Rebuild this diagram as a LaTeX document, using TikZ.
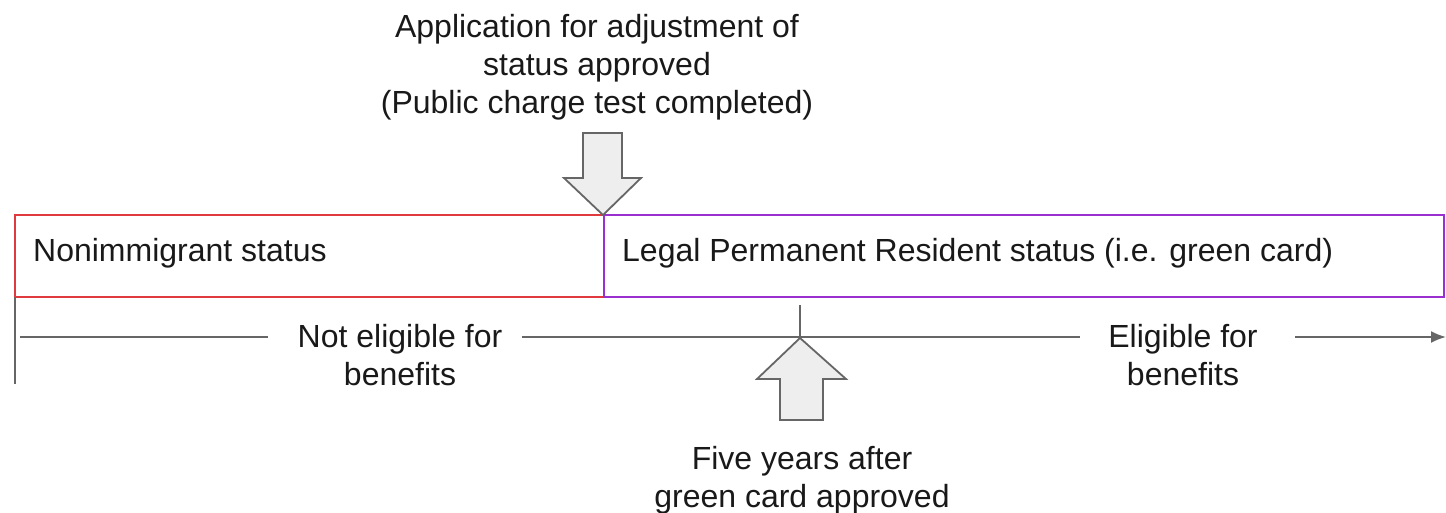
\documentclass[tikz,border=0pt]{standalone}
\usepackage{fontspec}
\setmainfont{Liberation Sans}
\usetikzlibrary{arrows.meta}
\definecolor{redb}{HTML}{E0393E}
\definecolor{purb}{HTML}{9B30D0}
\definecolor{lineg}{HTML}{666666}
\definecolor{fillg}{HTML}{EEEEEE}
\begin{document}
\begin{tikzpicture}[x=1pt,y=-1pt,
  lbl/.style={font=\fontsize{32}{38}\selectfont, align=center, inner sep=0pt, text=black!90},
  boxlbl/.style={font=\fontsize{32}{38}\selectfont, inner sep=0pt, anchor=west, text=black!90},
  tl/.style={draw=lineg, line width=1.8pt},
  bigarrow/.style={draw=lineg, fill=fillg, line width=1.8pt, line join=miter}]
\useasboundingbox (0,0) rectangle (1446,513);
% boxes
\draw[draw=redb, line width=1.8pt] (15,215) rectangle (604,297);
\draw[draw=purb, line width=1.8pt] (604,215) rectangle (1444,297);
\node[boxlbl] (non) at (33,253) {Nonimmigrant status};
\node[boxlbl] (lpr) at (622,253) {Legal Permanent Resident status (i.e. green card)};
% top text and arrow
\node[lbl] (top) at (597,67) {Application for adjustment of\\status approved\\(Public charge test completed)};
\coordinate (dtip) at (603,215);
\draw[bigarrow] (583,133) -- (622,133) -- (622,178) -- (641,178) -- (dtip) -- (564,178) -- (583,178) -- cycle;
% timeline
\coordinate (vt) at (15,297);
\coordinate (vb) at (15,384);
\draw[tl] (vt) -- (vb);
\node[lbl] (ne) at (400,355) {Not eligible for\\benefits};
\node[lbl] (el) at (1183,355) {Eligible for\\benefits};
\coordinate (t0) at (20,337);
\coordinate (t1) at (268,337);
\coordinate (t2) at (522,337);
\coordinate (t3) at (1080,337);
\coordinate (t4) at (1295,337);
\coordinate (t5) at (1446,337);
\draw[tl] (t0) -- (t1);
\draw[tl] (t2) -- (t3);
\draw[tl, -{Latex[length=15pt,width=12pt]}] (t4) -- (t5);
\coordinate (tick) at (800,305);
\coordinate (utip) at (800,338);
\draw[tl] (tick) -- (utip);
\draw[bigarrow] (780,420) -- (823,420) -- (823,379) -- (846,379) -- (utip) -- (757,379) -- (780,379) -- cycle;
\node[lbl] (five) at (802,480) {Five years after\\green card approved};
\end{tikzpicture}
\end{document}
